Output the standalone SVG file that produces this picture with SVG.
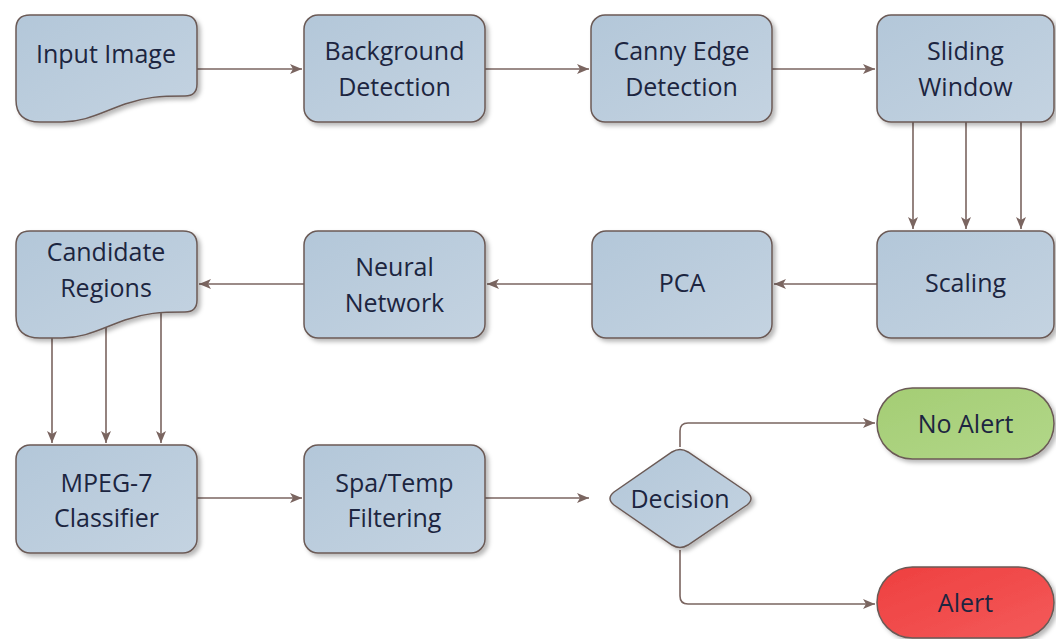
<svg xmlns="http://www.w3.org/2000/svg" width="1056" height="639" viewBox="0 0 1056 639">
<defs>
  <linearGradient id="gBlue" x1="0" y1="0" x2="1" y2="1">
    <stop offset="0" stop-color="#b3c7d9"/>
    <stop offset="1" stop-color="#c4d3e1"/>
  </linearGradient>
  <linearGradient id="gGreen" x1="0" y1="0" x2="1" y2="1">
    <stop offset="0" stop-color="#a4cd74"/>
    <stop offset="1" stop-color="#b2d789"/>
  </linearGradient>
  <linearGradient id="gRed" x1="0" y1="0" x2="1" y2="1">
    <stop offset="0" stop-color="#ee3f3f"/>
    <stop offset="1" stop-color="#f45a5a"/>
  </linearGradient>
  <filter id="sh" x="-10%" y="-10%" width="125%" height="130%">
    <feDropShadow dx="3" dy="3" stdDeviation="2" flood-color="#000" flood-opacity="0.28"/>
  </filter>
  <marker id="ah" markerUnits="userSpaceOnUse" markerWidth="13" markerHeight="11" refX="12" refY="5" orient="auto">
    <path d="M0,0 L12,5 L0,10 L3,5 Z" fill="#7a6560"/>
  </marker>
  <style>
    .box { fill: url(#gBlue); stroke: #6b5a56; stroke-width: 1.5; filter: url(#sh); }
    .green { fill: url(#gGreen); stroke: #6b5a56; stroke-width: 1.5; filter: url(#sh); }
    .red { fill: url(#gRed); stroke: #6b5a56; stroke-width: 1.5; filter: url(#sh); }
    .lbl { font-family: "Open Sans", "Noto Sans", sans-serif; font-size: 25px; fill: #1c2540; text-anchor: middle; }
    .con { fill: none; stroke: #7a6560; stroke-width: 1.6; marker-end: url(#ah); }
  </style>
</defs>

<g id="connectors">
  <path class="con" d="M197,69 H302"/>
  <path class="con" d="M485,69 H589"/>
  <path class="con" d="M772,69 H875"/>
  <path class="con" d="M913,122 V229"/>
  <path class="con" d="M966,122 V229"/>
  <path class="con" d="M1021,122 V229"/>
  <path class="con" d="M877,284 H774"/>
  <path class="con" d="M592,284 H487"/>
  <path class="con" d="M304,284 H199"/>
  <path class="con" d="M52,338 V443"/>
  <path class="con" d="M106,327 V443"/>
  <path class="con" d="M161,312 V443"/>
  <path class="con" d="M197,498 H302"/>
  <path class="con" d="M485,498 H589"/>
  <path class="con" d="M680,447 V431 Q680,423 688,423 H875"/>
  <path class="con" d="M680,550 V596 Q680,604 688,604 H875"/>
</g>

<g id="input-image">
  <path class="box" d="M30,15 H183 Q197,15 197,29 V84 Q197,96 185,96 C160,96 145,97 125,104 C100,113 85,122 62,122 H40 Q16,122 16,100 V29 Q16,15 30,15 Z"/>
  <text class="lbl" x="106" y="63">Input Image</text>
</g>

<g id="background-detection">
  <rect class="box" x="304" y="15" width="181" height="107" rx="14"/>
  <text class="lbl" x="394.5" y="60">Background</text>
  <text class="lbl" x="394.5" y="96">Detection</text>
</g>

<g id="canny-edge-detection">
  <rect class="box" x="591" y="15" width="181" height="107" rx="14"/>
  <text class="lbl" x="681.5" y="60">Canny Edge</text>
  <text class="lbl" x="681.5" y="96">Detection</text>
</g>

<g id="sliding-window">
  <rect class="box" x="877" y="15" width="177" height="107" rx="14"/>
  <text class="lbl" x="965.5" y="60">Sliding</text>
  <text class="lbl" x="965.5" y="96">Window</text>
</g>

<g id="scaling">
  <rect class="box" x="877" y="231" width="177" height="107" rx="14"/>
  <text class="lbl" x="965.5" y="292">Scaling</text>
</g>

<g id="pca">
  <rect class="box" x="592" y="231" width="180" height="107" rx="14"/>
  <text class="lbl" x="682" y="292">PCA</text>
</g>

<g id="neural-network">
  <rect class="box" x="304" y="231" width="181" height="107" rx="14"/>
  <text class="lbl" x="394.5" y="276">Neural</text>
  <text class="lbl" x="394.5" y="312">Network</text>
</g>

<g id="candidate-regions">
  <path class="box" d="M30,231 H183 Q197,231 197,245 V300 Q197,312 185,312 C160,312 145,313 125,320 C100,329 85,338 62,338 H40 Q16,338 16,316 V245 Q16,231 30,231 Z"/>
  <text class="lbl" x="106" y="261">Candidate</text>
  <text class="lbl" x="106" y="297">Regions</text>
</g>

<g id="mpeg7-classifier">
  <rect class="box" x="16" y="445" width="181" height="108" rx="14"/>
  <text class="lbl" x="106.5" y="492">MPEG-7</text>
  <text class="lbl" x="106.5" y="527">Classifier</text>
</g>

<g id="spa-temp-filtering">
  <rect class="box" x="304" y="445" width="181" height="108" rx="14"/>
  <text class="lbl" x="394.5" y="492">Spa/Temp</text>
  <text class="lbl" x="394.5" y="527">Filtering</text>
</g>

<g id="decision">
  <path class="box" d="M672,452 Q680,447 688,452 L747,492 Q755,498.5 747,505 L688,545 Q680,550 672,545 L614,505 Q606,498.5 614,492 Z"/>
  <text class="lbl" x="680" y="508">Decision</text>
</g>

<g id="no-alert">
  <rect class="green" x="877" y="388" width="177" height="71" rx="35.5"/>
  <text class="lbl" x="965.5" y="433">No Alert</text>
</g>

<g id="alert">
  <rect class="red" x="877" y="567" width="177" height="71" rx="35.5"/>
  <text class="lbl" x="965.5" y="612">Alert</text>
</g>
</svg>
